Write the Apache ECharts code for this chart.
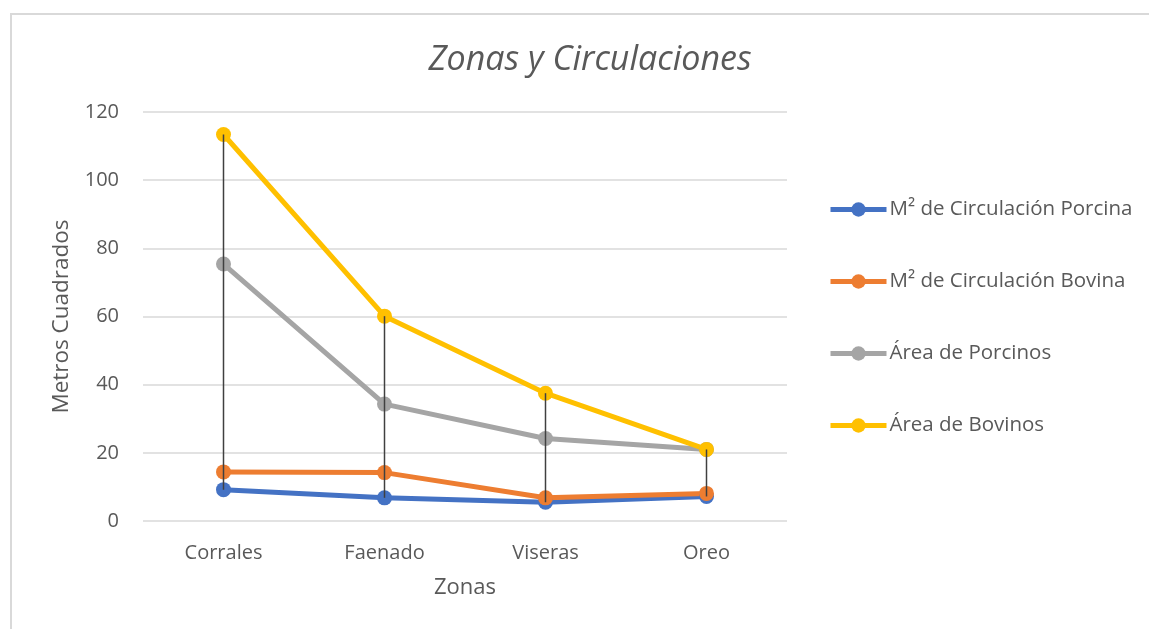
<!DOCTYPE html>
<html>
<head>
<meta charset="utf-8">
<script src="https://cdn.jsdelivr.net/npm/echarts@6/dist/echarts.min.js"></script>
<style>
  html, body { margin: 0; padding: 0; background: #fff; }
  #chart { width: 1149px; height: 629px; }
</style>
</head>
<body>
<div id="chart"></div>
<script>
// Datos
const zonas = ['Corrales', 'Faenado', 'Viseras', 'Oreo'];
const circPorcina = [9.2, 6.8, 5.5, 7.2];
const circBovina = [14.4, 14.2, 6.8, 8.1];
const areaPorcinos = [75.4, 34.3, 24.2, 21.0];
const areaBovinos = [113.4, 60.1, 37.5, 21.0];
const yTicks = [0, 20, 40, 60, 80, 100, 120];

const FONT = '"Open Sans", "Noto Sans", sans-serif';
const TEXT = '#595959';

const allSeries = [circPorcina, circBovina, areaPorcinos, areaBovinos];
// líneas máximo-mínimo por zona
const highLow = zonas.map((z, i) => {
  const vals = allSeries.map((s) => s[i]);
  return [i, Math.min(...vals), Math.max(...vals)];
});

function lineSeries(name, data, color) {
  return {
    name,
    type: 'line',
    data,
    symbol: 'circle',
    symbolSize: 15,
    lineStyle: { width: 5, color },
    itemStyle: { color },
    z: 2,
  };
}

const chart = echarts.init(document.getElementById('chart'));

chart.setOption({
  animation: false,
  graphic: [{
    type: 'polyline',
    shape: { points: [[11, 640], [11, 14], [1160, 14]] },
    style: { stroke: '#d9d9d9', lineWidth: 2, fill: null },
  }],
  title: {
    text: 'Zonas y Circulaciones',
    left: 585,
    top: 38,
    textAlign: 'center',
    textStyle: {
      fontFamily: FONT,
      fontStyle: 'italic',
      fontWeight: 'normal',
      fontSize: 34,
      color: TEXT,
    },
  },
  legend: {
    orient: 'vertical',
    left: 828,
    top: 199,
    padding: 0,
    itemWidth: 56,
    itemHeight: 18,
    itemGap: 51,
    lineStyle: { width: 5 },
    textStyle: { fontFamily: FONT, fontSize: 20.5, color: TEXT, padding: [0, 0, 0, -2] },
    data: ['M² de Circulación Porcina', 'M² de Circulación Bovina', 'Área de Porcinos', 'Área de Bovinos'],
  },
  grid: { left: 143, right: 362, top: 112, bottom: 108 },
  xAxis: {
    type: 'category',
    data: zonas,
    boundaryGap: true,
    name: 'Zonas',
    nameLocation: 'middle',
    nameGap: 56,
    nameTextStyle: { fontFamily: FONT, fontSize: 22, color: TEXT },
    axisLine: { show: false },
    axisTick: { show: false },
    axisLabel: { fontFamily: FONT, fontSize: 20, color: TEXT, margin: 22 },
  },
  yAxis: {
    type: 'value',
    min: yTicks[0],
    max: yTicks[yTicks.length - 1],
    interval: 20,
    name: 'Metros Cuadrados',
    nameLocation: 'middle',
    nameGap: 70,
    nameTextStyle: { fontFamily: FONT, fontSize: 22.5, color: TEXT },
    axisLine: { show: false },
    axisTick: { show: false },
    axisLabel: { fontFamily: FONT, fontSize: 20, color: TEXT, margin: 24 },
    splitLine: { lineStyle: { color: '#d9d9d9', width: 1.5 } },
  },
  series: [
    lineSeries('M² de Circulación Porcina', circPorcina, '#4472C4'),
    lineSeries('M² de Circulación Bovina', circBovina, '#ED7D31'),
    lineSeries('Área de Porcinos', areaPorcinos, '#A5A5A5'),
    lineSeries('Área de Bovinos', areaBovinos, '#FFC000'),
    {
      type: 'custom',
      name: 'highlow',
      data: highLow,
      z: 5,
      silent: true,
      renderItem(params, api) {
        const top = api.coord([api.value(0), api.value(2)]);
        const bottom = api.coord([api.value(0), api.value(1)]);
        return {
          type: 'line',
          shape: { x1: top[0], y1: top[1], x2: bottom[0], y2: bottom[1] },
          style: { stroke: '#404040', lineWidth: 1.5 },
        };
      },
    },
  ],
});
</script>
</body>
</html>
